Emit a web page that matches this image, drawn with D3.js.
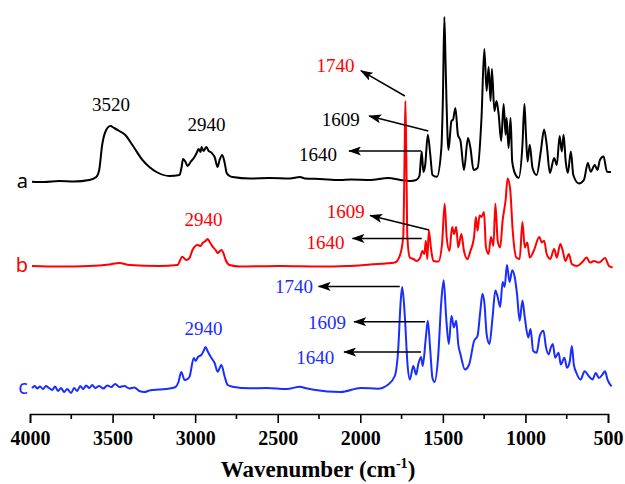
<!DOCTYPE html>
<html>
<head>
<meta charset="utf-8">
<script src="https://cdn.jsdelivr.net/npm/d3@7"></script>
<style>
  body { margin: 0; background: #fff; }
  svg { display: block; }
</style>
</head>
<body>
<div id="chart"></div>
<script>

// spectra: [wavenumber (cm-1), intensity (a.u.)]
var specA = [
  [3988,232.3],[3915,232],[3824,233],[3733,232.5],[3641,234],[3599,237],[3581,244],[3563,269],
  [3544,282],[3514,288],[3490,286],[3459,283],[3423,279],[3380,269],[3319,254],[3277,247],
  [3234,242],[3155,238],[3095,239],[3083,246],[3073,255],[3058,252],[3046,248],[3028,252],
  [3004,257],[2991,261],[2979,265],[2967,262],[2961,267],[2949,263],[2937,266],[2931,267],
  [2918,263],[2906,262],[2894,260],[2882,257],[2864,247],[2852,254],[2836,259],[2821,251],
  [2809,241],[2791,238],[2773,237],[2669,235.5],[2548,236],[2426,235.5],[2365,237],[2335,235.5],
  [2244,235],[2122,234],[2056,234.5],[1940,234],[1831,236],[1758,234],[1697,233],[1661,234],
  [1642,238],[1628,262.5],[1618,242],[1607,249],[1591,279.3],[1576,259],[1563,239],[1536,237.2],
  [1509,266],[1500,314],[1491,397],[1484,354],[1478,313],[1466,264],[1448,293],[1438,294.5],
  [1424,306],[1409,279.3],[1393,273],[1372,244],[1348,276],[1333,266],[1314,244],[1290,246],
  [1266,296],[1249,365],[1235,323],[1223,347],[1211,313],[1203,345],[1188,303],[1175,313],
  [1162,299.5],[1147,273],[1132,310],[1120,279.3],[1114,296],[1102,266],[1090,296],[1080,252.4],
  [1059,239],[1041,236],[1018,269.2],[1006,310],[998,284],[987,252.4],[974,269.2],[957,246],
  [932,239],[907,262.5],[887,284.4],[871,269.2],[852,241],[826,256],[810,249],[793,278],
  [780,262.5],[769,279.3],[756,252.4],[743,241],[725,262.5],[710,239],[676,230.5],[646,234],
  [622,251],[605,242.3],[580,249],[564,244],[549,254],[527,257.4],[506,242.3],[482,242]
];

var specB = [
  [3988,148],[3824,147.5],[3641,148],[3520,149.5],[3459,151],[3398,149],[3216,148],[3107,149],
  [3078,157.3],[3054,154],[3034,156],[3016,164],[2985,169],[2967,168],[2955,171],[2937,173],
  [2925,175],[2912,172],[2894,167.3],[2876,164],[2864,161],[2841,164],[2827,160],[2815,154],
  [2791,149],[2730,147.5],[2487,148],[2244,147.5],[2080,148],[1940,149.5],[1791,151.4],[1761,158.1],
  [1740,177],[1732,254],[1727,313],[1721,254],[1715,177],[1700,156.5],[1679,155],[1658,153],
  [1638,156],[1624,163],[1612,160],[1603,173.3],[1594,155],[1585,183.4],[1570,163],[1557,153],
  [1527,152.4],[1505,170],[1489,210.3],[1477,177],[1460,163],[1444,187],[1432,180],[1419,187],
  [1407,166.6],[1388,180],[1372,163],[1351,155],[1333,163],[1311,177],[1300,197],[1290,183.4],
  [1278,198.5],[1266,197],[1251,202],[1239,166.6],[1223,160],[1209,177],[1194,168.2],[1182,210.3],
  [1168,173.3],[1153,166.6],[1138,193.5],[1120,214],[1108,235.6],[1092,224],[1077,183.4],[1055,156.5],
  [1035,155],[1018,192],[1004,166.6],[989,171.6],[974,156.5],[950,163],[916,177],[901,171.6],
  [887,173.3],[871,160],[850,155],[826,165],[810,156.5],[789,170],[774,163.2],[758,153],
  [737,160],[719,150],[688,148],[658,151.4],[629,156.5],[609,151.4],[585,153],[555,151.4],
  [518,156],[494,148],[472,146.4]
];

var specC = [
  [3988,26],[3970,28],[3957,25.5],[3939,27.5],[3921,25],[3903,28],[3885,26],[3866,24],
  [3848,27.5],[3830,23],[3812,26],[3793,22],[3775,25],[3751,21],[3733,26],[3714,23],
  [3696,28],[3678,25],[3660,28.5],[3641,26],[3623,29],[3605,26],[3581,28],[3556,25.5],
  [3532,28.5],[3508,27],[3484,30],[3459,27],[3429,28],[3398,25.5],[3368,26.5],[3338,23],
  [3307,22],[3277,23.5],[3216,24.5],[3155,25.5],[3119,27],[3101,32],[3084,42],[3064,34],
  [3046,35],[3034,37.3],[3008,56],[2997,53],[2983,57],[2963,59],[2949,63],[2937,67],
  [2925,63],[2912,59],[2897,55],[2882,51],[2864,42.3],[2841,49],[2821,37.3],[2803,29],
  [2773,27.3],[2669,25.7],[2568,26],[2446,25],[2365,27.3],[2335,26],[2282,24.3],[2119,22],
  [1996,26],[1894,25.3],[1833,29.3],[1791,38],[1771,63],[1755,113.5],[1746,127],[1730,97],
  [1714,49.5],[1700,34.4],[1679,48],[1662,39.4],[1649,49.5],[1632,57],[1622,48],[1603,76.5],
  [1591,93.3],[1576,63],[1563,36],[1550,32],[1529,56.3],[1509,113.5],[1495,133.7],[1480,96.7],
  [1464,70],[1448,98.3],[1433,86.6],[1419,93.3],[1407,70],[1393,59.6],[1366,44.5],[1341,49.5],
  [1311,73],[1290,78.1],[1274,101.7],[1260,120.2],[1248,110.1],[1235,80],[1218,70],[1199,96.7],
  [1182,123.6],[1168,117],[1153,107],[1138,132],[1126,127],[1112,149],[1096,132],[1080,143.8],
  [1065,137],[1051,120.2],[1035,93.3],[1018,113.5],[1004,96.7],[983,76.5],[969,85],[953,63],
  [932,61.3],[913,78.1],[891,83.2],[875,66.4],[860,59.6],[846,66.4],[834,70],[820,56.3],
  [799,61.3],[786,49.5],[764,56.3],[748,46.2],[731,53],[719,68],[707,49.5],[691,41],
  [666,34.4],[642,42.8],[616,37.7],[594,34.4],[574,41.1],[555,36],[534,39.4],[518,42.8],
  [503,34.4],[478,27.6]
];

var seriesNames = ["a", "b", "c"];
var seriesColors = ["#000000", "#ff0000", "#1a2dff"];
var xTicks = [4000, 3500, 3000, 2500, 2000, 1500, 1000, 500];
var xMinorTicks = [3750, 3250, 2750, 2250, 1750, 1250, 750];

// peak labels: [text, wavenumber, intensity, series index]
var peakLabels = [
  ["3520", 3510, 309, 0], ["2940", 2931, 289, 0], ["1740", 2150, 348.3, 1],
  ["1609", 2119, 294.5, 0], ["1640", 2256, 259, 0],
  ["2940", 2949, 194, 1], ["1609", 2088, 202, 1], ["1640", 2211, 171.6, 1],
  ["2940", 2949, 85, 2], ["1740", 2402, 127.6, 2], ["1609", 2201, 91.6, 2], ["1640", 2272, 56.3, 2]
];

// arrows: [fromWn, fromVal, toWn, toVal]
var arrows = [
  [1730, 318, 1996, 343.3], [1588, 283, 1946, 298], [1632, 263, 2068, 263],
  [1583, 184, 1940, 198.5], [1628, 175.6, 2047, 175.6],
  [1761, 127.6, 2252, 127.6], [1607, 92.3, 2037, 92.3], [1632, 62, 2098, 62]
];

var width = 625, height = 484;
var AXIS_Y = 414;
var SERIF = "'Liberation Serif', 'Times New Roman', serif";

var svg = d3.select("#chart").append("svg")
  .attr("width", width)
  .attr("height", height);

svg.append("rect").attr("width", width).attr("height", height).attr("fill", "#fff");

var x = d3.scaleLinear().domain([4000, 500]).range([30, 608]);
var y = d3.scaleLinear().domain([0, AXIS_Y]).range([AXIS_Y, 0]);

// axis (bottom only)
var xAxis = d3.axisBottom(x)
  .tickValues(xTicks)
  .tickSize(9)
  .tickPadding(8)
  .tickFormat(d3.format("d"));

var axisG = svg.append("g")
  .attr("transform", "translate(0," + AXIS_Y + ")")
  .call(xAxis);

axisG.select(".domain").attr("stroke", "#000").attr("stroke-width", 1.6);
axisG.selectAll(".tick line").attr("stroke", "#000").attr("stroke-width", 1.6);
axisG.selectAll(".tick text")
  .attr("fill", "#000")
  .style("font-family", SERIF)
  .style("font-size", "20px")
  .style("font-weight", "bold");

axisG.selectAll("line.minor")
  .data(xMinorTicks)
  .enter().append("line")
  .attr("class", "minor")
  .attr("x1", function(d) { return x(d); })
  .attr("x2", function(d) { return x(d); })
  .attr("y1", 0)
  .attr("y2", 5)
  .attr("stroke", "#000")
  .attr("stroke-width", 1.6);

var title = svg.append("text")
  .attr("x", 318)
  .attr("y", 477)
  .attr("text-anchor", "middle")
  .style("font-family", SERIF)
  .style("font-size", "23px")
  .style("font-weight", "bold")
  .attr("fill", "#000");
title.append("tspan").text("Wavenumber (cm");
title.append("tspan").attr("dy", -9).style("font-size", "14px").text("-1");
title.append("tspan").attr("dy", 9).text(")");

// spectra
var line = d3.line()
  .curve(d3.curveMonotoneX)
  .x(function(d) { return x(d[0]); })
  .y(function(d) { return y(d[1]); });

var spectra = [specA, specB, specC];

spectra.forEach(function(spec, i) {
  svg.append("path")
    .datum(spec)
    .attr("fill", "none")
    .attr("stroke", seriesColors[i])
    .attr("stroke-width", 2)
    .attr("stroke-linejoin", "round")
    .attr("d", line);

  svg.append("text")
    .attr("x", x(spec[0][0]) - 4)
    .attr("y", y(spec[0][1]))
    .attr("dy", "0.32em")
    .attr("text-anchor", "end")
    .attr("fill", seriesColors[i])
    .style("font-family", "'Noto Sans', 'Open Sans', sans-serif")
    .style("font-size", "20px")
    .text(seriesNames[i]);
});

// arrow head
svg.append("defs").append("marker")
  .attr("id", "arrowHead")
  .attr("viewBox", "0 0 13 9")
  .attr("refX", 12)
  .attr("refY", 4.5)
  .attr("markerWidth", 13)
  .attr("markerHeight", 9)
  .attr("markerUnits", "userSpaceOnUse")
  .attr("orient", "auto")
  .append("path")
  .attr("d", "M0,0 L13,4.5 L0,9 L3,4.5 Z")
  .attr("fill", "#000");

svg.selectAll("line.arrow")
  .data(arrows)
  .enter().append("line")
  .attr("class", "arrow")
  .attr("x1", function(d) { return x(d[0]); })
  .attr("y1", function(d) { return y(d[1]); })
  .attr("x2", function(d) { return x(d[2]); })
  .attr("y2", function(d) { return y(d[3]); })
  .attr("stroke", "#000")
  .attr("stroke-width", 1.5)
  .attr("marker-end", "url(#arrowHead)");

svg.selectAll("text.peak")
  .data(peakLabels)
  .enter().append("text")
  .attr("class", "peak")
  .attr("x", function(d) { return x(d[1]); })
  .attr("y", function(d) { return y(d[2]); })
  .attr("dy", "0.34em")
  .attr("text-anchor", "middle")
  .attr("fill", function(d) { return seriesColors[d[3]]; })
  .style("font-family", SERIF)
  .style("font-size", "19px")
  .text(function(d) { return d[0]; });

</script>
</body>
</html>
